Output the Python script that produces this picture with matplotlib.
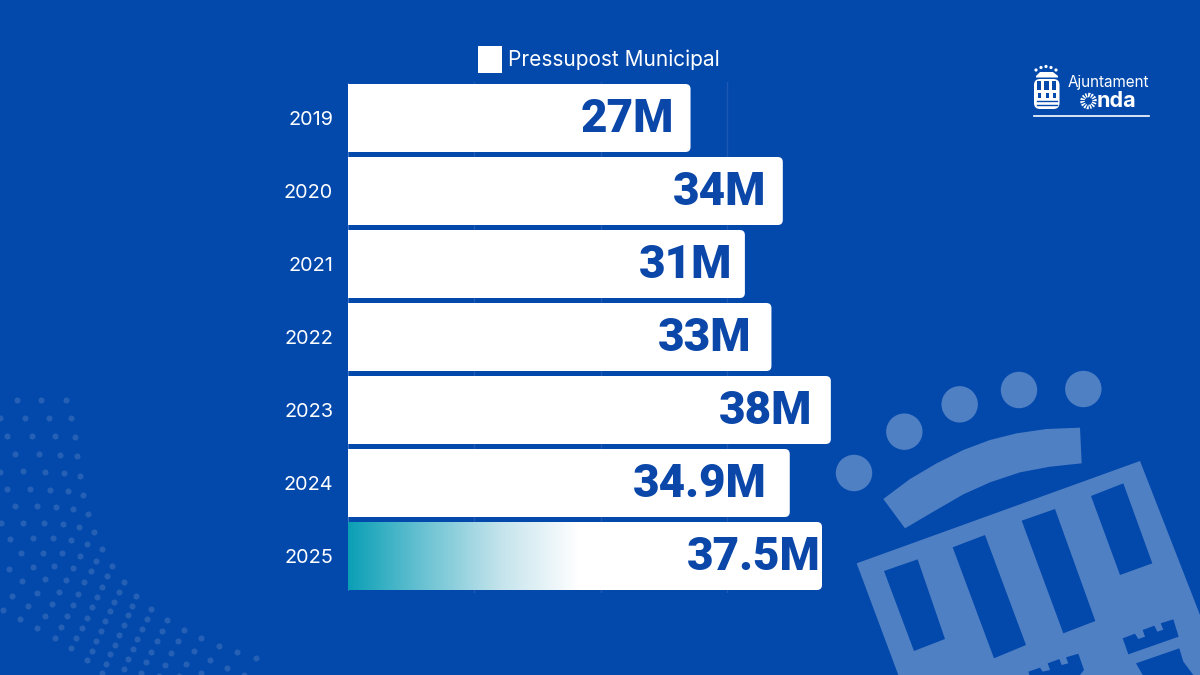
import numpy as np
import matplotlib
matplotlib.use("Agg")
import matplotlib.pyplot as plt
from matplotlib.colors import LinearSegmentedColormap
from matplotlib.patches import Circle, FancyBboxPatch, Patch, Polygon, Rectangle

plt.rcParams["font.family"] = ["Inter", "DejaVu Sans"]

# dades
years = ["2019", "2020", "2021", "2022", "2023", "2024", "2025"]
budget = [27.1, 34.4, 31.4, 33.5, 38.2, 34.95, 37.5]
budget_labels = ["27M", "34M", "31M", "33M", "38M", "34.9M", "37.5M"]
series_name = "Pressupost Municipal"

# distance from bar end to label end, in px
label_gaps = [17, 17, 13, 20, 19, 23, 1]

BLUE = "#0349ac"
TEXT_BLUE = "#0a47a8"
PALE = "#5080c4"
DOTS = "#2a63b6"
PX_PER_UNIT = 12.64
ROW_PX = 73


def bz(x, y):
    # crop coords of the large crest -> image px
    return (820 + x / 3, 355 + y / 3)


def dz(x, y):
    return (x / 3, 385 + y / 3)


# fons: punts
dot_xy = [(50, 46), (124, 44), (198, 44), (0, 100), (74, 98), (148, 98), (213, 100),
          (22, 152), (97, 152), (165, 153), (225, 157), (46, 206), (117, 206), (179, 209),
          (232, 214), (0, 261), (68, 259), (134, 261), (192, 265), (240, 272), (20, 313),
          (89, 313), (151, 314), (205, 319), (250, 329), (44, 364), (110, 363), (169, 366),
          (220, 372), (264, 386), (2, 414), (70, 413), (133, 413), (189, 416), (238, 425),
          (283, 441), (29, 462), (98, 459), (158, 459), (212, 465), (261, 477), (307, 493),
          (62, 505), (129, 503), (187, 505), (240, 513), (289, 527), (336, 544), (27, 551),
          (98, 545), (162, 544), (219, 548), (272, 559), (321, 574), (371, 590), (67, 589),
          (136, 583), (197, 585), (253, 592), (306, 606), (356, 620), (409, 633), (37, 632),
          (111, 623), (176, 621), (235, 626), (290, 636), (343, 650), (397, 662), (454, 672),
          (8, 675), (84, 663), (155, 657), (218, 659), (275, 666), (330, 679), (384, 691),
          (441, 702), (501, 706), (60, 702), (134, 693), (200, 692), (260, 698), (316, 708),
          (371, 721), (426, 732), (486, 737), (552, 734), (112, 729), (182, 725), (245, 729),
          (302, 738), (358, 750), (412, 761), (470, 769), (533, 769), (604, 759), (164, 758),
          (229, 758), (288, 767), (344, 779), (399, 792), (454, 801), (514, 804), (581, 798),
          (658, 782), (214, 790), (275, 797), (331, 808), (385, 822), (438, 832), (495, 839),
          (559, 837), (631, 825), (711, 801), (767, 820), (261, 826), (317, 837), (371, 852),
          (423, 863), (476, 872), (536, 872), (604, 865), (681, 849), (732, 870), (305, 864)]

crown_dots = [(102, 354), (253, 230), (419, 148), (597, 105), (790, 102)]
crown_band = [(190, 432), (270, 372), (350, 325), (430, 285), (510, 255), (590, 235),
              (680, 222), (780, 218), (785, 325), (690, 335), (600, 352), (510, 382),
              (430, 418), (340, 470), (255, 520)]
crest_body = [(110, 625), (960, 318), (1140, 780), (1140, 960), (235, 960)]
crest_windows = [[(192, 648), (293, 613), (375, 852), (282, 888)],
                 [(398, 577), (495, 540), (618, 870), (522, 910)],
                 [(605, 497), (705, 462), (826, 798), (730, 835)],
                 [(813, 423), (910, 385), (997, 625), (900, 660)]]
crest_towers = [[(908, 850), (945, 836), (955, 852), (975, 845), (968, 825), (1003, 812),
                 (1012, 830), (1030, 824), (1022, 805), (1060, 793), (1076, 845), (925, 898)],
                [(948, 925), (1078, 880), (1090, 920), (1120, 960), (968, 960)],
                [(625, 950), (660, 938), (668, 950), (690, 945), (683, 925), (718, 912),
                 (725, 930), (745, 925), (738, 907), (775, 896), (792, 945), (780, 960), (628, 960)]]

fig = plt.figure(figsize=(12, 6.75), dpi=100, facecolor=BLUE)

bg = fig.add_axes([0, 0, 1, 1], zorder=0)
bg.set_xlim(0, 1200)
bg.set_ylim(675, 0)
bg.axis("off")
bg.scatter(*zip(*[dz(x, y) for x, y in dot_xy]), s=19, color=DOTS, linewidths=0, alpha=0.9)

bg.add_patch(Polygon([bz(*p) for p in crest_body], color=PALE, lw=0))
for w in crest_windows + crest_towers:
    bg.add_patch(Polygon([bz(*p) for p in w], color=BLUE, lw=0))
bg.add_patch(Polygon([bz(*p) for p in crown_band], color=PALE, lw=0))
for p in crown_dots:
    bg.add_patch(Circle(bz(*p), 18.2, color=PALE, lw=0))

# logo petit
for x, y in [(1036, 70), (1041, 67.5), (1046, 66.5), (1051, 67.5), (1056, 70)]:
    bg.add_patch(Circle((x, y), 1.6, color="white", lw=0))
bg.add_patch(Polygon([(1036, 76), (1040, 72), (1053, 72), (1058, 76), (1058, 77.5), (1036, 77.5)],
                     color="white", lw=0))
bg.add_patch(FancyBboxPatch((1034, 79), 25.5, 30, boxstyle="round,pad=0,rounding_size=6",
                            fc="white", lw=0))
for x in (1036.5, 1044, 1051.5):
    bg.add_patch(Rectangle((x, 81), 4.6, 9, color=BLUE, lw=0))
for x in (1038, 1045.5, 1053):
    bg.add_patch(Rectangle((x, 93), 3, 5, color=BLUE, lw=0))
for y in (101, 104.5):
    bg.plot([1037, 1057], [y, y], color=BLUE, lw=1)
bg.text(1068, 82.5, "Ajuntament", color="white", fontsize=11, va="center", ha="left")
bg.add_patch(Circle((1088.5, 101), 6, fc="none", ec="white", lw=3.2, ls=(0, (0.35, 0.25))))
bg.text(1097, 101, "nda", color="white", fontsize=15.5, fontweight="bold", va="center", ha="left")
bg.plot([1034, 1149], [116, 116], color="white", lw=1.2)

# grafic
left, right, top, bottom = 348, 900, 81.5, 592.5
ax = fig.add_axes([left / 1200, 1 - bottom / 675, (right - left) / 1200, (bottom - top) / 675],
                  zorder=1)
ax.patch.set_alpha(0)
ax.set_xlim(0, (right - left) / PX_PER_UNIT)
ax.set_ylim(len(years) - 0.5, -0.5)
for s in ax.spines.values():
    s.set_visible(False)
ax.set_xticks([10, 20, 30])
ax.set_xticklabels([])
ax.set_yticks(range(len(years)))
ax.set_yticklabels(years, color="white", fontsize=14.3)
ax.tick_params(axis="both", length=0)
ax.tick_params(axis="y", pad=10.7)
ax.grid(axis="x", color="#1d58b3", lw=1)
ax.set_axisbelow(True)

bar_h = 68 / ROW_PX
bars = []
for i, v in enumerate(budget):
    # starts left of 0 so only the right corners show rounded
    bar = FancyBboxPatch((-1, i - bar_h / 2), v + 1, bar_h,
                         boxstyle="round,pad=0,rounding_size=0.4",
                         mutation_aspect=PX_PER_UNIT / ROW_PX,
                         fc="white", ec="none", zorder=2)
    ax.add_patch(bar)
    bars.append(bar)
    ax.annotate(budget_labels[i], xy=(v, i), xytext=(-label_gaps[i] * 0.72, -0.5),
                textcoords="offset points", ha="right", va="center",
                color=TEXT_BLUE, fontsize=33, fontweight=900, family="Roboto", zorder=4)

# degradat de 2025
cmap = LinearSegmentedColormap.from_list("teal", ["#0a9fb6", "#6cc3d3", "#c5e4ec", "#ffffff"])
grad = ax.imshow(np.linspace(0, 1, 256).reshape(1, -1), cmap=cmap, aspect="auto",
                 extent=(0, 18.2, 6 + bar_h / 2, 6 - bar_h / 2), zorder=3)
grad.set_clip_path(bars[6])
ax.set_xlim(0, (right - left) / PX_PER_UNIT)
ax.set_ylim(len(years) - 0.5, -0.5)
ax.plot([0, 0], [-bar_h / 2, 6 + bar_h / 2], color="#4f86d0", lw=1.2, zorder=1.5)

ax.legend(handles=[Patch(fc="white", ec="none", label=series_name)],
          loc="center left", bbox_to_anchor=(478 / 1200, 1 - 59.5 / 675),
          bbox_transform=fig.transFigure, frameon=False, borderpad=0, borderaxespad=0,
          handlelength=1.15, handleheight=1.6, handletextpad=0.3,
          fontsize=15, labelcolor="white")

fig.savefig("out.png", dpi=100, facecolor=BLUE)
